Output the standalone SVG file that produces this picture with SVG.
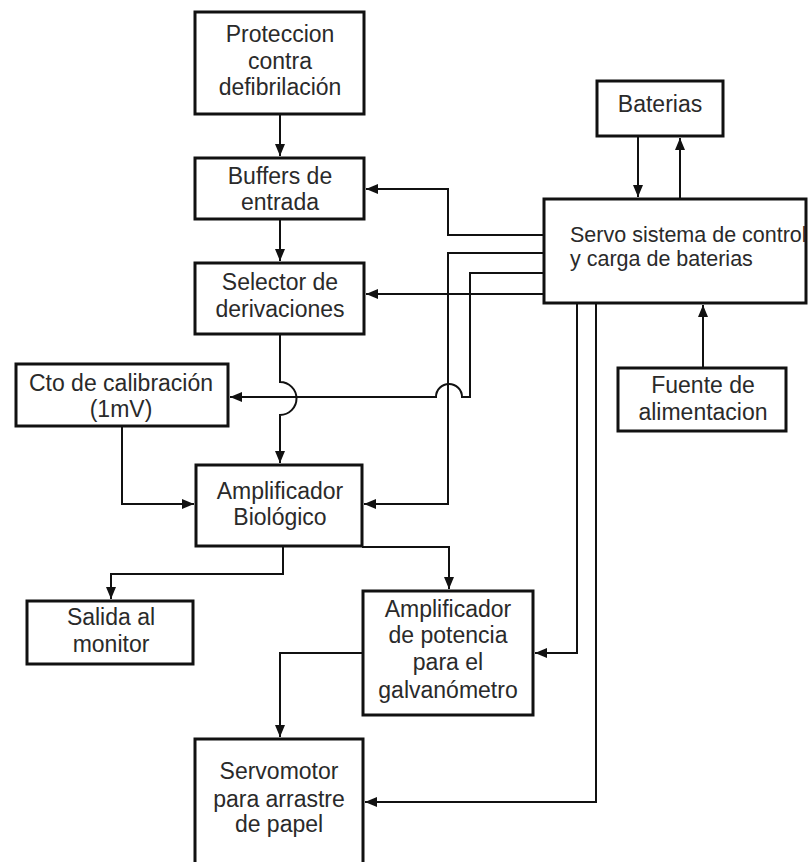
<svg xmlns="http://www.w3.org/2000/svg" width="808" height="862" viewBox="0 0 808 862">
<style>
.box{fill:#fff;stroke:#111;stroke-width:3}
.t{font-family:"Liberation Sans",Arial,sans-serif;font-size:23px;fill:#2a2a2a;text-anchor:middle}
.c{fill:none;stroke:#111;stroke-width:2;marker-end:url(#ah)}
</style>
<defs>
<marker id="ah" markerUnits="userSpaceOnUse" viewBox="0 -6 12 12" refX="12" refY="0" markerWidth="12" markerHeight="12" orient="auto">
<path d="M0,-5 L12,0 L0,5 Z" fill="#111"/>
</marker>
</defs>
<rect width="808" height="862" fill="#fff"/>
<g id="connectors">
<path class="c" d="M280,114 V156"/>
<path class="c" d="M280,219 V261"/>
<path class="c" d="M544,235 H448 V189 H366"/>
<path class="c" d="M544,253 H448 V504 H364"/>
<path class="c" d="M544,273 H470 V397 H462 A13,13 0 0 0 436,397 H230"/>
<path class="c" d="M280,334 V382 A16.5,16.5 0 0 1 280,415 V463"/>
<path class="c" d="M544,294 H366"/>
<path class="c" d="M122,426 V504 H194"/>
<path class="c" d="M283,546 V574 H111 V599"/>
<path class="c" d="M362,547 H449 V589"/>
<path class="c" d="M577,303 V653 H535"/>
<path class="c" d="M596,303 V802 H365"/>
<path class="c" d="M363,653 H280 V737"/>
<path class="c" d="M638,136 V197"/>
<path class="c" d="M680,199 V138"/>
<path class="c" d="M703,368 V305"/>
</g>
<g id="proteccion">
<rect class="box" x="195" y="12" width="169" height="102"/>
<text class="t" x="280" y="42">Proteccion</text>
<text class="t" x="280" y="69">contra</text>
<text class="t" x="280" y="95">defibrilación</text>
</g>
<g id="buffers">
<rect class="box" x="195" y="158" width="169" height="61"/>
<text class="t" x="280" y="184">Buffers de</text>
<text class="t" x="280" y="210">entrada</text>
</g>
<g id="selector">
<rect class="box" x="195" y="263" width="169" height="71"/>
<text class="t" x="280" y="290">Selector de</text>
<text class="t" x="280" y="317">derivaciones</text>
</g>
<g id="baterias">
<rect class="box" x="597" y="81" width="126" height="55"/>
<text class="t" x="660" y="112">Baterias</text>
</g>
<g id="servo">
<rect class="box" x="544" y="199" width="262" height="104"/>
<text class="t" x="570" y="242" style="text-anchor:start;font-size:21.5px">Servo sistema de control</text>
<text class="t" x="570" y="266" style="text-anchor:start;font-size:21.5px">y carga de baterias</text>
</g>
<g id="calibracion">
<rect class="box" x="16" y="364" width="212" height="62"/>
<text class="t" x="121" y="391">Cto de calibración</text>
<text class="t" x="121" y="417">(1mV)</text>
</g>
<g id="amp-biologico">
<rect class="box" x="196" y="465" width="166" height="81"/>
<text class="t" x="280" y="499">Amplificador</text>
<text class="t" x="280" y="525">Biológico</text>
</g>
<g id="salida">
<rect class="box" x="27" y="601" width="166" height="63"/>
<text class="t" x="111" y="625">Salida al</text>
<text class="t" x="111" y="652">monitor</text>
</g>
<g id="amp-potencia">
<rect class="box" x="363" y="591" width="170" height="124"/>
<text class="t" x="448" y="617">Amplificador</text>
<text class="t" x="448" y="643">de potencia</text>
<text class="t" x="448" y="670">para el</text>
<text class="t" x="448" y="698">galvanómetro</text>
</g>
<g id="servomotor">
<rect class="box" x="195" y="739" width="168" height="140"/>
<text class="t" x="279" y="779">Servomotor</text>
<text class="t" x="279" y="807">para arrastre</text>
<text class="t" x="279" y="832">de papel</text>
</g>
<g id="fuente">
<rect class="box" x="618" y="368" width="168" height="63"/>
<text class="t" x="703" y="393">Fuente de</text>
<text class="t" x="703" y="420">alimentacion</text>
</g>
</svg>
